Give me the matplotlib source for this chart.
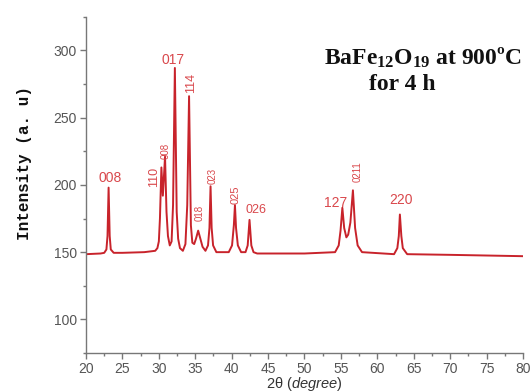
import matplotlib
matplotlib.use("Agg")
import matplotlib.pyplot as plt
from matplotlib.ticker import MultipleLocator

plt.rcParams['mathtext.fontset'] = 'custom'
plt.rcParams['mathtext.rm'] = 'Liberation Serif:bold'
plt.rcParams['mathtext.it'] = 'Liberation Sans:italic'
plt.rcParams['mathtext.bf'] = 'Liberation Serif:bold'

# XRD pattern
two_theta = [20.0, 22.0, 22.5, 22.8, 22.95, 23.1, 23.25, 23.4, 23.8, 25.0, 28.0,
             29.5, 29.8, 30.0, 30.15, 30.35, 30.55, 30.85, 31.05, 31.25, 31.5,
             31.75, 31.95, 32.2, 32.45, 32.65, 32.9, 33.3, 33.65, 33.9, 34.15,
             34.4, 34.6, 34.85, 35.1, 35.4, 35.7, 36.0, 36.4, 36.75, 36.95,
             37.1, 37.25, 37.45, 37.9, 39.6, 40.05, 40.3, 40.45, 40.6, 40.85,
             41.3, 41.9, 42.2, 42.45, 42.7, 43.0, 43.5, 50.0, 54.2, 54.7,
             54.95, 55.2, 55.45, 55.75, 56.0, 56.3, 56.65, 56.95, 57.3, 57.9,
             62.3, 62.75, 62.95, 63.1, 63.3, 63.5, 64.1, 70.0, 80.0]
intensity = [148.5, 149.0, 149.5, 152.0, 162.0, 198.0, 162.0, 152.0, 149.5, 149.5, 150.0,
             151.0, 153.0, 158.0, 175.0, 213.0, 192.0, 221.0, 180.0, 162.0, 155.0,
             158.0, 185.0, 287.0, 180.0, 160.0, 153.0, 151.0, 156.0, 185.0, 266.0,
             170.0, 157.0, 156.0, 160.0, 166.0, 160.0, 154.0, 151.0, 155.0, 168.0,
             199.0, 168.0, 155.0, 150.0, 150.0, 155.0, 170.0, 185.0, 168.0, 155.0,
             150.0, 150.0, 155.0, 174.0, 155.0, 150.0, 149.0, 149.0, 150.0, 155.0,
             166.0, 183.0, 168.0, 161.0, 163.0, 172.0, 196.0, 168.0, 155.0, 150.0,
             148.5, 153.0, 162.0, 178.0, 162.0, 153.0, 148.5, 148.0, 147.0]

# Miller index labels
peak_labels = ['008', '110', '008', '017', '114', '018', '023', '025', '026', '127', '0211', '220']
label_x = [23.3, 29.3, 30.95, 32.0, 34.4, 35.6, 37.4, 40.6, 43.3, 54.3, 57.3, 63.2]
label_y = [205, 206, 225, 293, 276, 179, 207, 193, 181, 186.5, 210, 189]
label_rot = [0, 90, 90, 0, 90, 90, 90, 90, 0, 0, 90, 0]
label_size = [10, 9, 7, 10, 9, 7, 7, 8, 9, 10, 7, 10]

fig = plt.figure(figsize=(5.32, 3.92), dpi=100)
ax = fig.add_axes([0.1617, 0.0995, 0.8213, 0.8575])

ax.plot(two_theta, intensity, color='#c8232b', lw=1.4, solid_joinstyle='round')

for t, x, y, r, s in zip(peak_labels, label_x, label_y, label_rot, label_size):
    ax.text(x, y, t, rotation=r, fontsize=s, color='#d9484c', ha='center', va='center',
            family='Liberation Sans')

ax.text(66.2, 295, 'BaFe$_{12}$O$_{19}$ at 900ºC', family='Liberation Serif',
        weight='bold', fontsize=17, ha='center', va='center', color='#111111')
ax.text(63.5, 275, 'for 4 h', family='Liberation Serif', weight='bold',
        fontsize=17, ha='center', va='center', color='#111111')

ax.set_xlim(20, 80)
ax.set_ylim(75, 325)
ax.xaxis.set_major_locator(MultipleLocator(5))
ax.xaxis.set_minor_locator(MultipleLocator(2.5))
ax.yaxis.set_major_locator(MultipleLocator(50))
ax.yaxis.set_minor_locator(MultipleLocator(25))
ax.set_yticks([100, 150, 200, 250, 300])

for sp in ['top', 'right']:
    ax.spines[sp].set_visible(False)
for sp in ['left', 'bottom']:
    ax.spines[sp].set_color('#777777')
    ax.spines[sp].set_linewidth(1.0)

ax.tick_params(axis='both', which='major', colors='#777777', labelcolor='#555555',
               labelsize=10, length=4, width=1, pad=2.5)
ax.tick_params(axis='both', which='minor', colors='#777777', length=2.5, width=1)
for lab in ax.get_xticklabels() + ax.get_yticklabels():
    lab.set_family('Liberation Sans')

ax.set_xlabel(r'2θ ($\mathit{degree}$)', fontsize=10.5, color='#333333',
              family='Liberation Sans', labelpad=-1)

ax.set_ylabel('Intensity (a. u)', family='Liberation Mono', weight='bold',
              fontsize=11.5, color='#111111')
ax.yaxis.set_label_coords(-0.124, 0.565)

fig.savefig('out.png', dpi=100)
